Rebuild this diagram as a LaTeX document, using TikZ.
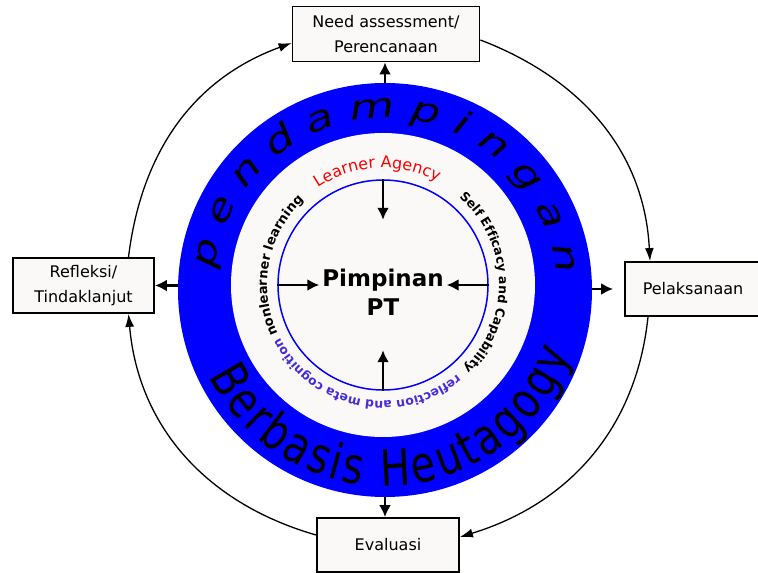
\documentclass[tikz,border=0pt]{standalone}
\usepackage{fontspec}
\setmainfont{DejaVu Sans}
\newfontfamily\bandfont[FakeSlant=0.25,FakeStretch=1.35]{DejaVu Sans}
\newfontfamily\heutfont[FakeStretch=0.8]{DejaVu Sans}
\usetikzlibrary{shapes,arrows.meta,positioning,decorations.text}

\definecolor{ringfill}{RGB}{251,248,248}
\definecolor{refblue}{RGB}{70,45,215}

\begin{document}
\begin{tikzpicture}[
    x=1pt, y=1pt,
    stage/.style={rectangle, draw, line width=1.8pt, fill=ringfill, align=center, inner sep=0pt, font=\fontsize{16}{25}\selectfont},
    cyclearrow/.style={-{Latex[length=13pt,width=9pt]}, line width=1.3pt},
    radial/.style={-{Latex[length=12pt,width=12pt]}, line width=2.6pt}
]
\useasboundingbox (0,0) rectangle (758,573);

% Circles
\coordinate (c) at (383,288);
\node[circle, fill=blue, minimum size=414pt, inner sep=0pt] (band) at (385,283) {};
\node[circle, fill=ringfill, minimum size=304pt, inner sep=0pt] (ring) at (c) {};
\node[circle, draw=blue, line width=1.5pt, fill=ringfill, minimum size=210pt, inner sep=0pt] (inner) at (c) {};
\node[minimum width=127pt, minimum height=130pt] (pim) at (c) {};
\node[align=center, font=\bfseries\fontsize{23}{29}\selectfont] (pimtext) at (383,281) {Pimpinan\\PT};

% Stages
\node[stage, minimum width=187pt, minimum height=55pt] (need) at (386,539) {Need assessment/\\Perencanaan};
\node[stage, minimum width=136pt, minimum height=54pt] (pel) at (693,284) {Pelaksanaan};
\node[stage, minimum width=142pt, minimum height=54pt] (eval) at (388,28) {Evaluasi};
\node[stage, minimum width=141pt, minimum height=55pt] (refl) at (83.5,287.5) {Refleksi/\\Tindaklanjut};

% Cycle arrows
\draw[cyclearrow] ([xshift=45pt]refl.north) to[out=83, in=200] ([yshift=-9pt]need.west);
\draw[cyclearrow] ([yshift=-6pt]need.east) to[out=-21, in=93] ([xshift=-43pt]pel.north);
\draw[cyclearrow] ([xshift=-45pt]pel.south) to[out=264, in=17] ([yshift=8pt]eval.east);
\draw[cyclearrow] ([yshift=10pt]eval.west) to[out=164, in=-85] ([xshift=45pt]refl.south);

% Arrows out of the band
\draw[radial] (band.north) -- (band.north |- need.south);
\draw[radial] (band.west |- refl.east) -- (refl.east);
\draw[radial, shorten >=11pt] (band.east |- pel.west) -- (pel.west);
\draw[radial] (band.south) -- (band.south |- eval.north);

% Arrows into the centre
\draw[radial] (inner.north) -- (pim.north);
\draw[radial] (inner.west) -- (pim.west);
\draw[radial] (inner.east) -- (pim.east);
\draw[radial] (inner.south) -- (pim.south);

% Band texts
\path[decorate, decoration={text along path, text align=fit to path,
    text={|\bandfont\fontsize{34}{34}\selectfont|pendampingan}}]
    ([shift={(174:172)}]band.center) arc[start angle=174, end angle=6, radius=172];
\path[decorate, decoration={text along path, text align=fit to path,
    text={|\heutfont\fontsize{50}{50}\selectfont|Berbasis Heutagogy}}]
    ([shift={(206:196)}]band.center) arc[start angle=206, end angle=341, radius=196];

% Ring texts
\path[decorate, decoration={text along path, text align=center, text color=red,
    text={|\fontsize{16}{16}\selectfont|Learner Agency}}]
    ([shift={(140:117)}]c) arc[start angle=140, end angle=46, radius=117];
\path[decorate, decoration={text along path, text align=center,
    text={|\bfseries\fontsize{12.5}{12.5}\selectfont|Self Efficacy and Capability}}]
    ([shift={(56:116)}]c) arc[start angle=56, end angle=-53, radius=116];
\path[decorate, decoration={text along path, text align=center, text color=refblue,
    text={|\bfseries\fontsize{12.4}{12.4}\selectfont|reflection and meta cognition}}]
    ([shift={(-45:116)}]c) arc[start angle=-45, end angle=-158, radius=116];
\path[decorate, decoration={text along path, text align=center,
    text={|\bfseries\fontsize{13}{13}\selectfont|nonlearner learning}}]
    ([shift={(212:116)}]c) arc[start angle=212, end angle=126, radius=116];

\end{tikzpicture}
\end{document}
